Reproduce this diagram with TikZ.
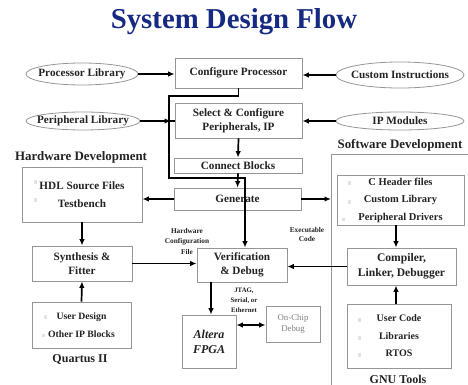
\documentclass[tikz,border=0pt]{standalone}
\usepackage{fontspec}
\setmainfont{Liberation Serif}
\usetikzlibrary{arrows.meta,shapes.geometric}
\definecolor{titleblue}{RGB}{22,42,130}
\definecolor{boxgray}{RGB}{150,150,150}
\definecolor{txt}{RGB}{35,35,35}
\begin{document}
\begin{tikzpicture}[x=1pt,y=-1pt,
  box/.style={draw=boxgray, line width=0.8pt, fill=white, inner sep=0pt, align=center,
    font=\bfseries\fontsize{11.2}{14}\selectfont, text=txt},
  listbox/.style={box, font=\bfseries\fontsize{9.7}{18}\selectfont},
  ell/.style={ellipse, draw=boxgray, line width=0.8pt, inner sep=0pt, text=txt},
  elltext/.style={font=\bfseries\fontsize{11.2}{12}\selectfont, text=txt},
  arr/.style={line width=1.7pt, -{Latex[length=6.5pt,width=5.5pt]}},
  dblarr/.style={line width=1.7pt, {Latex[length=6.5pt,width=5.5pt]}-{Latex[length=6.5pt,width=5.5pt]}},
  ln/.style={line width=1.7pt},
  frame/.style={draw=boxgray, line width=0.8pt},
  small/.style={font=\bfseries\fontsize{7.3}{10.5}\selectfont, align=center, text=txt, inner sep=0pt},
  head/.style={font=\bfseries\fontsize{12.9}{14}\selectfont, text=txt, inner sep=0pt},
  bul/.style={fill=gray!22}
]
\useasboundingbox (0,0) rectangle (468,385);

% title
\node[font=\bfseries\fontsize{28.8}{30}\selectfont, text=titleblue] (title) at (234,22) {System Design Flow};

% software development frame
\coordinate (swtl) at (331,154);
\draw[frame] (468,154) -- (swtl) -- (331,385);

% ellipses
\node[ell, minimum width=112pt, minimum height=22pt, label={[elltext]center:Processor Library}] (pl) at (82,74) {};
\node[ell, minimum width=128pt, minimum height=26pt, label={[elltext]center:Custom Instructions}] (ci) at (400,75) {};
\node[ell, minimum width=114pt, minimum height=18pt, label={[elltext]center:Peripheral Library}] (pel) at (83,121) {};
\node[ell, minimum width=128pt, minimum height=18pt, label={[elltext]center:IP Modules}] (ip) at (400,121) {};

% central boxes
\node[box, minimum width=127pt, minimum height=30pt] (cfg) at (238.5,73) {Configure Processor};
\node[box, minimum width=127pt, minimum height=35pt] (sel) at (238.5,120.5) {Select \& Configure\\Peripherals, IP};
\node[box, minimum width=128pt, minimum height=15pt] (con) at (238,165.5) {Connect Blocks};
\node[box, minimum width=127pt, minimum height=22pt] (gen) at (237.5,199) {Generate};

% hardware side
\node[head] (hwd) at (81,157) {Hardware Development};
\node[box, minimum width=120pt, minimum height=55pt, font=\bfseries\fontsize{11.2}{18}\selectfont] (hdl) at (82,194.5) {HDL Source Files\\Testbench};
\node[box, minimum width=100pt, minimum height=35pt] (syn) at (82,263.5) {Synthesis \&\\Fitter};
\node[listbox, minimum width=99pt, minimum height=46pt] (usr) at (81.5,325) {User Design\\Other IP Blocks};
\node[head, font=\bfseries\fontsize{12}{14}\selectfont] (qii) at (80,359) {Quartus II};

% verification / fpga
\node[box, minimum width=90pt, minimum height=34pt] (ver) at (242,265) {Verification\\\& Debug};
\node[box, minimum width=54pt, minimum height=53pt, font=\bfseries\itshape\fontsize{12}{15}\selectfont] (fpga) at (209,341.5) {Altera\\FPGA};
\node[box, minimum width=54pt, minimum height=36pt, font=\fontsize{8.8}{11}\selectfont, text=gray] (ocd) at (293,324) {On-Chip\\Debug};

% software side
\node[head] (swd) at (400,145) {Software Development};
\node[listbox, minimum width=127pt, minimum height=50pt, font=\bfseries\fontsize{10.5}{17.5}\selectfont] (chd) at (400.5,200) {C Header files\\Custom Library\\Peripheral Drivers};
\node[box, minimum width=109pt, minimum height=37pt, font=\bfseries\fontsize{11.6}{15}\selectfont] (cmp) at (401.5,266.5) {Compiler,\\Linker, Debugger};
\node[listbox, minimum width=104pt, minimum height=64pt, font=\bfseries\fontsize{10}{17.5}\selectfont] (uc) at (399,336) {User Code\\Libraries\\RTOS};
\node[head, font=\bfseries\fontsize{12}{14}\selectfont] (gnu) at (398,379.5) {GNU Tools};

% small labels
\node[small] (hcf) at (187,241) {Hardware\\Configuration\\File};
\node[small, font=\bfseries\fontsize{7.3}{9.5}\selectfont] (exc) at (307,234.5) {Executable\\Code};
\node[small, font=\bfseries\fontsize{6.8}{10}\selectfont] (jtag) at (244,300) {JTAG,\\Serial, or\\Ethernet};

% faint bullets
\fill[bul] (33.5,180) rectangle ++(3,4);
\fill[bul] (33.5,198) rectangle ++(3,4);
\fill[bul] (348,181) rectangle ++(3,4);
\fill[bul] (348,200) rectangle ++(3,4);
\fill[bul] (342,217.5) rectangle ++(3,3);
\fill[bul] (44,315) rectangle ++(3,4);
\fill[bul] (42,333.5) rectangle ++(3,3);
\fill[bul] (358,318) rectangle ++(3,4);
\fill[bul] (358,336) rectangle ++(3,4);
\fill[bul] (358,353) rectangle ++(3,4);

% coordinates
\coordinate (j1) at (169,96);
\coordinate (j2) at (245,178);
\coordinate (pj) at (171,121);
\coordinate (sx) at (396,0);
\coordinate (vx) at (211,0);
\coordinate (oy) at (0,325);

% connectors
\draw[arr] (pl.east) -- (pl.east -| cfg.west);
\draw[arr] (ci.west) -- (ci.west -| cfg.east);
\draw[ln] (pel.east) -- (pel.east -| sel.west);
\draw[arr] (pel.east) -- (pj);
\draw[arr] (ip.west) -- (ip.west -| sel.east);
\draw[arr] (sel.south) -- (con.north);
\draw[arr] (con.south) -- (gen.north);
\draw[arr] (cfg.south) |- (j1) |- (j2) -- (j2 |- ver.north);
\draw[arr] (gen.west) -- (gen.west -| hdl.east);
\draw[arr] (gen.east) -- (gen.east -| swtl);
\draw[arr] (hdl.south) -- (syn.north);
\draw[arr] (usr.north) -- (syn.south);
\draw[arr] (syn.east) -- (syn.east -| ver.west);
\draw[arr] (cmp.west) -- (cmp.west -| ver.east);
\draw[arr] (chd.south -| sx) -- (cmp.north -| sx);
\draw[arr] (uc.north -| sx) -- (cmp.south -| sx);
\draw[arr] (ver.south -| vx) -- (fpga.north -| vx);
\draw[dblarr] (fpga.east |- oy) -- (ocd.west |- oy);
\end{tikzpicture}
\end{document}
